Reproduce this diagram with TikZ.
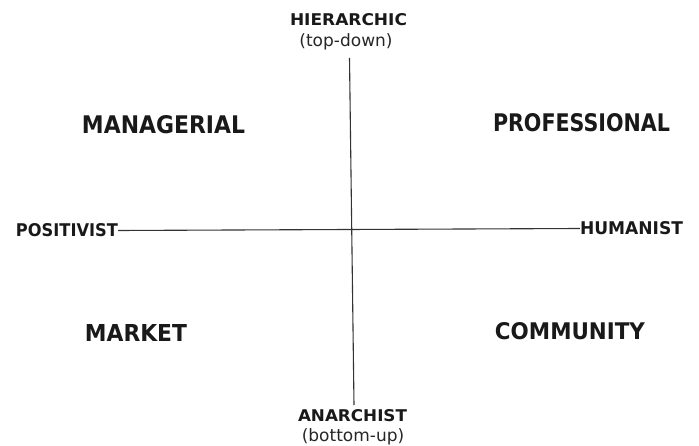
\documentclass[tikz,border=0pt]{standalone}
\usepackage{fontspec}
\setmainfont{DejaVu Sans}
\begin{document}
\begin{tikzpicture}[x=1pt,y=-1pt,
  quad/.style={inner sep=0pt, text=black!90, font=\bfseries},
  axlbl/.style={inner sep=0pt, text=black!90, font=\bfseries},
  sub/.style={inner sep=0pt, text=black!85, font=\fontsize{17}{19}\selectfont},
  axis/.style={draw=black!80, line width=1.1pt}]
\useasboundingbox (0,0) rectangle (699,446);
% quadrant labels
\node[quad] (man) at (163.5,125) {\resizebox{163pt}{18pt}{MANAGERIAL}};
\node[quad] (pro) at (581.5,123) {\resizebox{177pt}{18pt}{PROFESSIONAL}};
\node[quad] (mar) at (136,333) {\resizebox{102pt}{17pt}{MARKET}};
\node[quad] (com) at (570,331) {\resizebox{150pt}{17pt}{COMMUNITY}};
% axis labels
\node[axlbl] (hier) at (348.5,20) {\resizebox{117pt}{12pt}{HIERARCHIC}};
\node[sub] (td) at (346,42) {(top-down)};
\node[axlbl] (anar) at (352.5,416) {\resizebox{109pt}{12pt}{ANARCHIST}};
\node[sub] (bu) at (353,437) {(bottom-up)};
\node[axlbl] (pos) at (67,230.5) {\resizebox{102pt}{13pt}{POSITIVIST}};
\node[axlbl] (hum) at (631.5,228.5) {\resizebox{103pt}{13pt}{HUMANIST}};
% axes
\coordinate (vtop) at (349.5,58);
\coordinate (vbot) at (354,405);
\draw[axis] (vtop) -- (vbot);
\draw[axis] (pos.east) -- (hum.west);
\end{tikzpicture}
\end{document}
